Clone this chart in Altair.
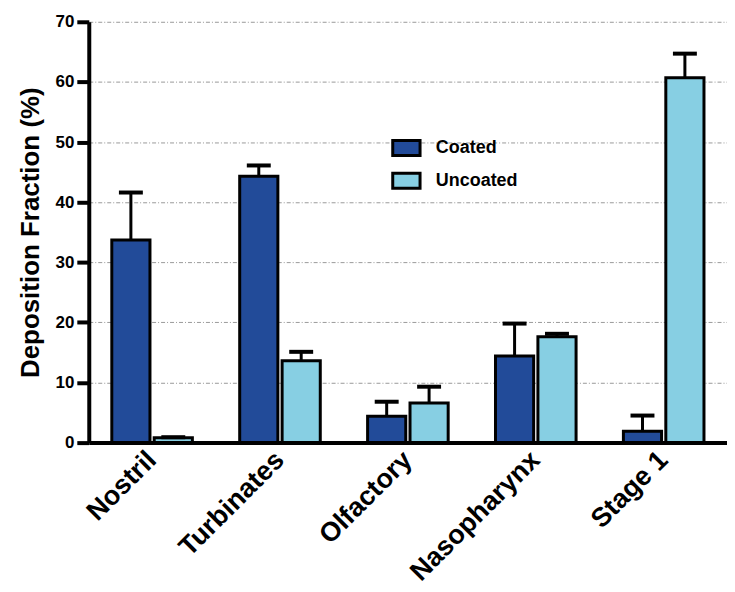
import altair as alt
import pandas as pd

categories = ["Nostril", "Turbinates", "Olfactory", "Nasopharynx", "Stage 1"]
series = ["Coated", "Uncoated"]
coated = [33.7, 44.3, 4.4, 14.4, 1.9]
coated_err = [7.9, 1.8, 2.4, 5.4, 2.6]
uncoated = [0.8, 13.6, 6.6, 17.6, 60.7]
uncoated_err = [0.1, 1.5, 2.7, 0.5, 4.0]
colors = ["#224B99", "#87CFE3"]

rows = []
for i, c in enumerate(categories):
    rows.append({"category": c, "series": "Coated", "value": coated[i], "upper": coated[i] + coated_err[i]})
    rows.append({"category": c, "series": "Uncoated", "value": uncoated[i], "upper": uncoated[i] + uncoated_err[i]})
df = pd.DataFrame(rows)

FONT = "Liberation Sans"

x = alt.X("category:N", sort=categories,
          scale=alt.Scale(paddingInner=0.37, paddingOuter=0.18),
          axis=alt.Axis(title=None, labelAngle=-45, labelAlign="right", labelBaseline="middle",
                        labelFontSize=27, labelFontWeight="bold", labelFont=FONT, labelColor="black",
                        labelPadding=13, ticks=False, domainColor="black", domainWidth=4))
xo = alt.XOffset("series:N", sort=series, scale=alt.Scale(paddingInner=0.1))
yscale = alt.Scale(domain=[0, 70], nice=False)

base = alt.Chart(df)

err = base.mark_rule(color="black", strokeWidth=3).encode(
    x=x, xOffset=xo,
    y=alt.Y("value:Q", scale=yscale),
    y2="upper:Q")

cap = base.mark_tick(color="black", thickness=4, size=24, opacity=1).encode(
    x=x, xOffset=xo,
    y=alt.Y("upper:Q", scale=yscale))

bars = base.mark_bar(stroke="black", strokeWidth=3).encode(
    x=x, xOffset=xo,
    y=alt.Y("value:Q", scale=yscale,
            axis=alt.Axis(title="Deposition Fraction (%)", values=[0, 10, 20, 30, 40, 50, 60, 70],
                          titleFontSize=26, titleFontWeight="bold", titleFont=FONT, titleColor="black",
                          titlePadding=12,
                          labelFontSize=17, labelFontWeight="bold", labelFont=FONT, labelColor="black",
                          tickColor="black", tickWidth=4, tickSize=12, labelPadding=3,
                          domainColor="black", domainWidth=4,
                          grid=True, gridColor="#9a9a9a", gridDash=[4, 2, 1, 2], gridWidth=1)),
    color=alt.Color("series:N", sort=series, scale=alt.Scale(domain=series, range=colors),
                    legend=alt.Legend(title=None, orient="none", legendX=303, legendY=111,
                                      labelFontSize=18, labelFontWeight="bold", labelFont=FONT,
                                      labelColor="black", symbolType="M-1,-0.55H1V0.55H-1Z",
                                      symbolSize=750, symbolStrokeColor="black", symbolStrokeWidth=3,
                                      symbolOpacity=1, rowPadding=3, labelOffset=14)))

chart = alt.layer(err, bars, cap).properties(
    width=640, height=422,
    padding={"left": 81, "top": 13, "right": 0, "bottom": 155},
    autosize=alt.AutoSizeParams(type="none")
).configure_view(stroke=None).configure_axisY(gridOpacity=1)

chart.save("out.html", embed_options={"renderer": "svg", "actions": False})
